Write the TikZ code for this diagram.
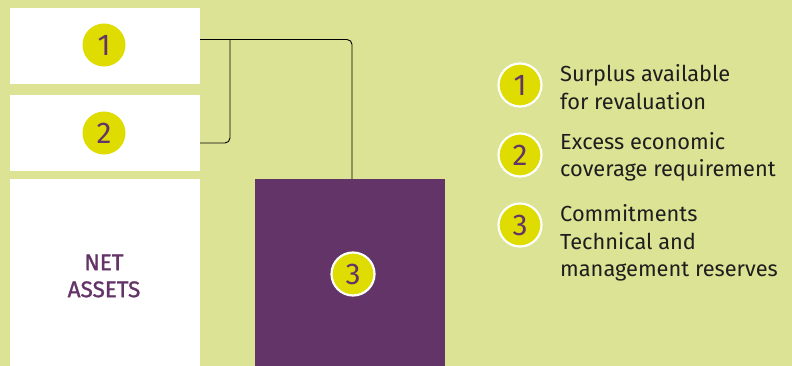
\documentclass[tikz,border=0pt]{standalone}
\usepackage{fontspec}
\setmainfont{Fira Sans}
\newfontfamily\medfont{Fira Sans}[FakeBold=1.2]
\definecolor{bg}{HTML}{DCE394}
\definecolor{plum}{HTML}{633468}
\definecolor{lime}{HTML}{DEDC00}
\definecolor{ink}{HTML}{1E1E1E}
\begin{document}
\begin{tikzpicture}[x=1pt,y=-1pt,
  wbox/.style={fill=white,draw=none,anchor=north west,inner sep=0pt},
  num/.style={circle,fill=lime,minimum size=43pt,inner sep=0pt,text=plum,font=\fontsize{30}{30}\selectfont},
  numw/.style={num,draw=white,line width=2.2pt},
  leg/.style={anchor=west,align=left,text=ink,font=\fontsize{21.8}{27.5}\selectfont,inner sep=0pt},
  conn/.style={draw=black,line width=0.9pt,rounded corners=5pt}]
\fill[bg] (0,0) rectangle (792,366);
\useasboundingbox (0,0) rectangle (792,366);
\node[wbox,minimum width=190pt,minimum height=76pt] (b1) at (10,8) {};
\node[wbox,minimum width=190pt,minimum height=76pt] (b2) at (10,95) {};
\node[wbox,minimum width=190pt,minimum height=187pt] (b3) at (10,179) {};
\node[anchor=north west,inner sep=0pt,fill=plum,minimum width=190pt,minimum height=187pt] (p) at (255,179) {};
\node[num] (n1) at (104,45) {1};
\node[num] (n2) at (104,133) {2};
\node[numw] (n3) at (353,274) {3};
\node[align=center,text=plum,font=\medfont\fontsize{22.5}{27}\selectfont] (na) at (104,276) {NET\\ASSETS};
\coordinate (o1) at (200,39.5);
\coordinate (o2) at (200,143);
\coordinate (t) at (352,179);
\draw[conn] (o1) -- (352,39.5) -- (t);
\draw[conn] (o2) -- (230,143) -- (230,39.5);
\node[numw] (l1) at (520,85) {1};
\node[numw] (l2) at (520,155) {2};
\node[numw] (l3) at (520,225) {3};
\node[leg] (t1) at (560,87) {Surplus available\\for revaluation};
\node[leg] (t2) at (560,157) {Excess economic\\coverage requirement};
\node[leg] (t3) at (560,243) {Commitments\\Technical and\\management reserves};
\end{tikzpicture}
\end{document}
